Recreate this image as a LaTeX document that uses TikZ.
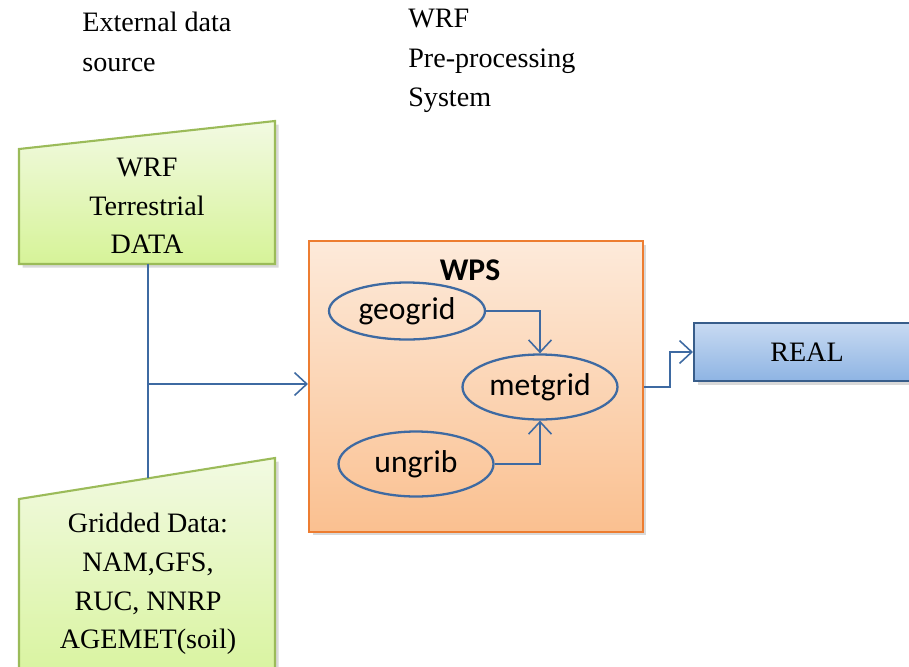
\documentclass[tikz,border=0pt]{standalone}
\usepackage{fontspec}
\setmainfont{Liberation Serif}
\newfontfamily\calibri{Carlito}
\usetikzlibrary{positioning, calc, arrows.meta, shadows, shapes.geometric}
\definecolor{DataGreen}{RGB}{155,187,89}
\definecolor{DataTop}{RGB}{242,250,226}
\definecolor{DataBot}{RGB}{214,243,152}
\definecolor{WPSOrange}{RGB}{237,125,49}
\definecolor{WPSTop}{RGB}{253,234,218}
\definecolor{WPSBot}{RGB}{250,192,144}
\definecolor{RealBlue}{RGB}{56,93,138}
\definecolor{RealTop}{RGB}{200,218,242}
\definecolor{RealBot}{RGB}{142,180,227}
\definecolor{LinkBlue}{RGB}{62,106,162}
\tikzset{
    datashape/.style={
        draw=DataGreen, line width=1.2pt, top color=DataTop, bottom color=DataBot,
        drop shadow={opacity=0.3, shadow xshift=2pt, shadow yshift=-2pt}
    },
    serifbox/.style={
        align=center, inner sep=0pt, font=\fontsize{16}{22}\selectfont
    },
    headtext/.style={
        align=left, anchor=west, inner sep=0pt, font=\fontsize{16}{22.5}\selectfont
    },
    procnode/.style={
        ellipse, draw=LinkBlue, line width=1.3pt, inner sep=0pt,
        minimum width=3.1cm, minimum height=1.3cm, font=\calibri\fontsize{18}{20}\selectfont
    },
    link/.style={
        draw=LinkBlue, line width=0.9pt
    },
    arr/.style={
        link, -{Straight Barb[length=7pt, width=13pt]}
    }
}
\begin{document}
\begin{tikzpicture}[x=0.02cm, y=-0.02cm]
    \useasboundingbox (0,0) rectangle (909,666);
    \clip (0,0) rectangle (909,666);

    % headings
    \node[headtext] (extsrc) at (82,42) {External data\\source};
    \node[headtext] (wpshead) at (408,61) {WRF\\Pre-processing\\System};

    % input data
    \path[datashape] (19,149) -- (275,121) -- (275,264) -- (19,264) -- cycle;
    \path[datashape] (19,499) -- (275,458) -- (275,700) -- (19,700) -- cycle;
    \node[serifbox] (terr) at (147,206) {WRF\\Terrestrial\\DATA};
    \node[serifbox] (grid) at (148,584) {Gridded Data:\\NAM,GFS,\\RUC, NNRP\\AGEMET(soil)};
    \coordinate (terrbot) at (148,264);
    \coordinate (gridtop) at (148,478);
    \coordinate (join) at (148,384);

    % WPS
    \node[draw=WPSOrange, line width=1.2pt, top color=WPSTop, bottom color=WPSBot,
          minimum width=6.68cm, minimum height=5.82cm, inner sep=0pt,
          drop shadow={opacity=0.3, shadow xshift=2pt, shadow yshift=-2pt}] (wps) at (476,386.5) {};
    \node[font=\calibri\bfseries\fontsize{18}{20}\selectfont] (wpstitle) at (470,270) {WPS};
    \node[procnode, minimum width=3.12cm, minimum height=1.14cm] (geogrid) at (407,311) {geogrid};
    \node[procnode] (metgrid) at (540,387) {metgrid};
    \node[procnode] (ungrib) at (416,464) {ungrib};

    % REAL
    \node[draw=RealBlue, line width=1.2pt, top color=RealTop, bottom color=RealBot,
          minimum width=4.52cm, minimum height=1.16cm, inner sep=0pt,
          font=\fontsize{16}{20}\selectfont,
          drop shadow={opacity=0.3, shadow xshift=2pt, shadow yshift=-2pt}] (real) at (807,352) {REAL};

    % connectors
    \draw[link] (terrbot) -- (gridtop);
    \draw[arr] (join) -- (join -| wps.west);
    \draw[arr] (geogrid.east) -| (metgrid.north);
    \draw[arr] (ungrib.east) -| (metgrid.south);
    \draw[arr] (wps.east |- metgrid.east) -- ++(26,0) |- (real.west);
\end{tikzpicture}
\end{document}
